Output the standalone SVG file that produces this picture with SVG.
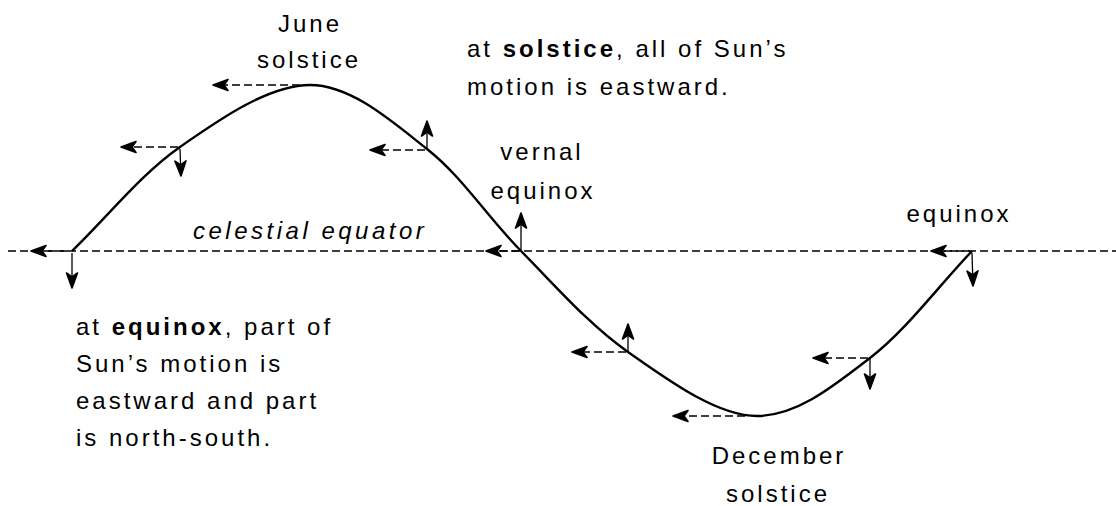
<svg xmlns="http://www.w3.org/2000/svg" width="1116" height="506" viewBox="0 0 1116 506">
<style>
text{font-family:"Liberation Sans",Arial,sans-serif;font-size:24px;letter-spacing:3px;fill:#000}
.b{font-weight:bold}
.it{font-style:italic;letter-spacing:3.5px}
.mid{text-anchor:middle}
.eq{stroke:#000;stroke-width:1.5;stroke-dasharray:8 4;fill:none}
.dash{stroke:#000;stroke-width:1.6;stroke-dasharray:8 4;fill:none;marker-end:url(#ah)}
.vert{stroke:#000;stroke-width:1.3;fill:none;marker-end:url(#ah)}
.curve{stroke:#000;stroke-width:2.4;fill:none}
</style>
<defs>
<marker id="ah" markerUnits="userSpaceOnUse" markerWidth="18" markerHeight="14" refX="16" refY="7" orient="auto" overflow="visible">
<path d="M16,7 L1,1.5 L5,7 L1,12.5 Z" fill="#000" stroke="#000" stroke-width="1.6" stroke-linejoin="round"/>
</marker>
</defs>
<g id="equator">
<line class="eq" x1="8" y1="251" x2="1116" y2="251"/>
</g>
<g id="sun-path">
<path class="curve" d="M72,251 C108,216.3 140.3,174.7 180,147 C219.7,119.3 268.8,85 310,85 C351.2,85 391.8,121.3 427,149 C462.2,176.7 487.5,217.2 521,251 C554.5,284.8 588.7,324.5 628,352 C667.3,379.5 716.7,416 757,416 C797.3,416 834.2,385.5 870,358 C905.8,330.5 938,286.7 972,251"/>
</g>
<g id="connectors">
<line class="dash" x1="68" y1="251" x2="31" y2="251"/>
<line class="dash" x1="178" y1="147" x2="121" y2="147"/>
<line class="dash" x1="300" y1="85" x2="213" y2="85"/>
<line class="dash" x1="425" y1="150" x2="370" y2="150"/>
<line class="dash" x1="519" y1="251" x2="486" y2="251"/>
<line class="dash" x1="626" y1="352" x2="572" y2="352"/>
<line class="dash" x1="745" y1="416" x2="673" y2="416"/>
<line class="dash" x1="868" y1="358" x2="813" y2="358"/>
<line class="dash" x1="970" y1="251" x2="931" y2="251"/>
<line class="vert" x1="72" y1="253" x2="72" y2="288"/>
<line class="vert" x1="180" y1="149" x2="181" y2="176"/>
<line class="vert" x1="427" y1="148" x2="427" y2="121"/>
<line class="vert" x1="521" y1="250" x2="521" y2="213"/>
<line class="vert" x1="628" y1="351" x2="628" y2="324"/>
<line class="vert" x1="870" y1="359" x2="870" y2="389"/>
<line class="vert" x1="972" y1="253" x2="973" y2="286"/>
</g>
<g id="label-june">
<text class="mid" x="310" y="32">June</text>
<text class="mid" x="309" y="68">solstice</text>
</g>
<g id="label-solstice-note">
<text x="467" y="57">at <tspan class="b">solstice</tspan>, all of Sun’s</text>
<text x="467" y="95">motion is eastward.</text>
</g>
<g id="label-vernal">
<text class="mid" x="542" y="160">vernal</text>
<text class="mid" x="543" y="199">equinox</text>
</g>
<g id="label-equinox-right">
<text class="mid" x="959" y="222">equinox</text>
</g>
<g id="label-equator">
<text class="it" x="193" y="239">celestial equator</text>
</g>
<g id="label-equinox-note">
<text x="76" y="335">at <tspan class="b">equinox</tspan>, part of</text>
<text x="76" y="372">Sun’s motion is</text>
<text x="76" y="409">eastward and part</text>
<text x="76" y="446">is north-south.</text>
</g>
<g id="label-december">
<text class="mid" x="779" y="464">December</text>
<text class="mid" x="778" y="502">solstice</text>
</g>
</svg>
